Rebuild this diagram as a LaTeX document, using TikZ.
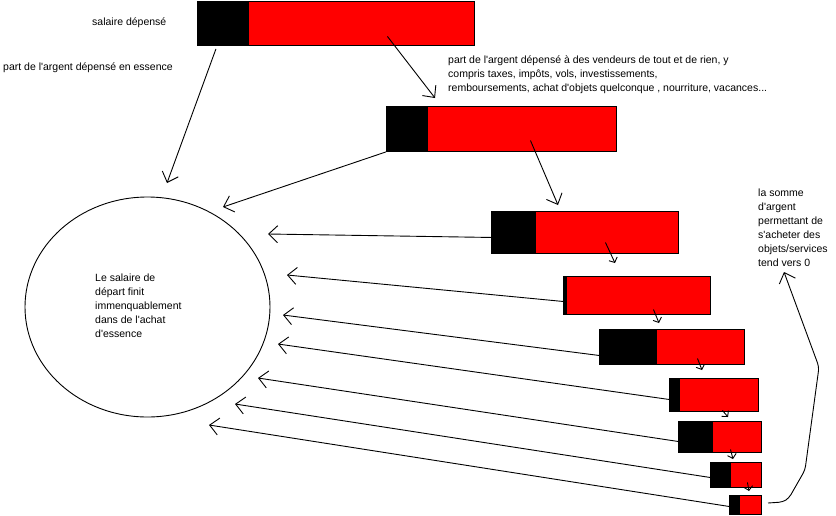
\documentclass[tikz,border=0pt]{standalone}
\usepackage{fontspec}
\setmainfont{Liberation Sans}[Ligatures=TeXOff]
\usetikzlibrary{arrows.meta,shapes.geometric,calc}
\begin{document}
\begin{tikzpicture}[x=1pt,y=-1pt,
  every node/.style={font=\fontsize{10.5}{14}\selectfont, inner sep=0pt},
  arr/.style={line width=0.9pt, -{Straight Barb[length=9pt,width=17pt]}},
  sarr/.style={line width=0.9pt, -{Straight Barb[length=4pt,width=9pt]}},
  blk/.style={draw=black, line width=0.9pt, fill=black, anchor=north west, inner sep=0pt},
  rd/.style={draw=black, line width=0.9pt, fill=red, anchor=north west, inner sep=0pt},
  lbl/.style={align=left, anchor=north west}]
\fill[white] (0,0) rectangle (836,515);
\useasboundingbox (0,0) rectangle (836,515);

% bars
\node[blk, minimum width=51pt, minimum height=44pt] (b1k) at (197,1) {};
\node[rd,  minimum width=226pt, minimum height=44pt] (b1r) at (248,1) {};
\node[blk, minimum width=41pt, minimum height=45pt] (b2k) at (386,106) {};
\node[rd,  minimum width=189pt, minimum height=45pt] (b2r) at (427,106) {};
\node[blk, minimum width=44pt, minimum height=42pt] (b3k) at (491,211) {};
\node[rd,  minimum width=143pt, minimum height=42pt] (b3r) at (535,211) {};
\node[blk, minimum width=3pt, minimum height=38pt] (b4k) at (563,276) {};
\node[rd,  minimum width=144pt, minimum height=38pt] (b4r) at (566,276) {};
\node[blk, minimum width=57pt, minimum height=35pt] (b5k) at (599,329) {};
\node[rd,  minimum width=88pt, minimum height=35pt] (b5r) at (656,329) {};
\node[blk, minimum width=10pt, minimum height=33pt] (b6k) at (669,378) {};
\node[rd,  minimum width=79pt, minimum height=33pt] (b6r) at (679,378) {};
\node[blk, minimum width=34pt, minimum height=31pt] (b7k) at (678,421) {};
\node[rd,  minimum width=49pt, minimum height=31pt] (b7r) at (712,421) {};
\node[blk, minimum width=20pt, minimum height=25pt] (b8k) at (710,462) {};
\node[rd,  minimum width=31pt, minimum height=25pt] (b8r) at (730,462) {};
\node[blk, minimum width=10pt, minimum height=19pt] (b9k) at (729,495) {};
\node[rd,  minimum width=22pt, minimum height=19pt] (b9r) at (739,495) {};

% circle
\node[draw, ellipse, line width=0.9pt, minimum width=245pt, minimum height=220pt] (circ) at (147.5,307) {};
\node[lbl] (ctext) at (95,270.5) {\rule{0pt}{10.5pt}Le salaire de\\départ finit\\immenquablement\\dans de l'achat\\d'essence};

% labels
\node[anchor=base west] (lsal) at (92,25) {salaire dépensé};
\node[anchor=base west] (less) at (3,70) {part de l'argent dépensé en essence};
\node[lbl] (lvend) at (448,52.5) {\rule{0pt}{10.5pt}part de l'argent dépensé à des vendeurs de tout et de rien, y\\compris taxes, impôts, vols, investissements,\\remboursements, achat d'objets quelconque , nourriture, vacances...};
\node[lbl] (lsom) at (758,185.5) {\rule{0pt}{10.5pt}la somme\\d'argent\\permettant de\\s'acheter des\\objets/services\\tend vers 0};

% free ends
\coordinate (e1) at (167,183);
\coordinate (e2) at (435,98);
\coordinate (e3) at (558,205);
\coordinate (t2) at (223,207);
\coordinate (t3) at (268,234);
\coordinate (t4) at (287,275);
\coordinate (t5) at (283,315);
\coordinate (t6) at (278,344);
\coordinate (t7) at (258,378);
\coordinate (t8) at (235,404);
\coordinate (t9) at (209,425);
\coordinate (s3) at (615,263);
\coordinate (s4) at (659,323);
\coordinate (s5) at (702,370);
\coordinate (s6) at (728,417);
\coordinate (s7) at (733,459);
\coordinate (s8) at (749,491);
\coordinate (cs) at (768,503);
\coordinate (ce) at (784,272);

% main arrows
\draw[arr] ($(b1k.south)+(-7,3)$) -- (e1);
\draw[arr] ($(b1r.center)+(26,13)$) -- (e2);
\draw[arr] ($(b2r.center)+(8.5,11.5)$) -- (e3);
\draw[arr] (b2k.south west) -- (t2);
\draw[arr] ($(b3k.west)+(0,5)$) -- (t3);
\draw[arr] ($(b4k.west)+(0,6)$) -- (t4);
\draw[arr] ($(b5k.west)+(0,8.5)$) -- (t5);
\draw[arr] ($(b6k.west)+(0,4.5)$) -- (t6);
\draw[arr] ($(b7k.west)+(0,4.5)$) -- (t7);
\draw[arr] ($(b8k.west)+(0,2.5)$) -- (t8);
\draw[arr] ($(b9k.west)+(0,1.5)$) -- (t9);

% small arrows
\draw[sarr] ($(b3r.center)+(-1.5,10)$) -- (s3);
\draw[sarr] ($(b4r.center)+(15,14)$) -- (s4);
\draw[sarr] ($(b5r.center)+(-3,11.5)$) -- (s5);
\draw[sarr] ($(b6r.center)+(3.5,15.5)$) -- (s6);
\draw[sarr] ($(b7r.center)+(-6.5,12.5)$) -- (s7);
\draw[sarr] ($(b8r.center)+(1.5,7.5)$) -- (s8);

% bent arrow
\draw[arr, rounded corners=4pt] (cs) -- (783,502) -- (789,498) -- (805,470) -- (819,367) -- (ce);
\end{tikzpicture}
\end{document}
